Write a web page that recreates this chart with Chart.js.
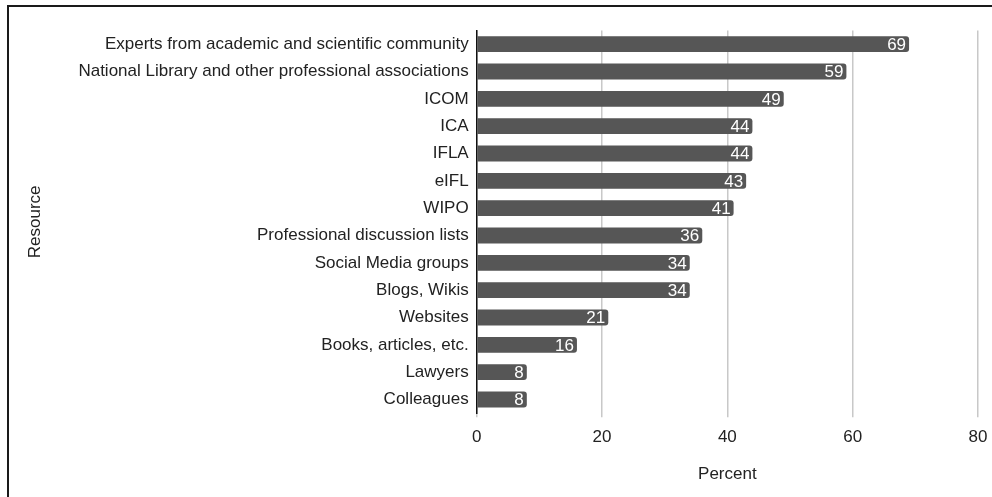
<!DOCTYPE html>
<html>
<head>
<meta charset="utf-8">
<script src="https://cdn.jsdelivr.net/npm/chart.js@4/dist/chart.umd.min.js"></script>
<style>
html,body{margin:0;padding:0;background:#fff;overflow:hidden;}
#wrap{position:absolute;left:0;top:0;width:992px;height:497px;}
#frame{position:absolute;left:7px;top:5px;width:1000px;height:600px;border-top:2px solid #1a1a1a;border-left:2px solid #1a1a1a;pointer-events:none;}
</style>
</head>
<body>
<div id="wrap"><canvas id="c" width="992" height="497"></canvas></div>
<div id="frame"></div>
<script>
const categories = [
  "Experts from academic and scientific community",
  "National Library and other professional associations",
  "ICOM",
  "ICA",
  "IFLA",
  "eIFL",
  "WIPO",
  "Professional discussion lists",
  "Social Media groups",
  "Blogs, Wikis",
  "Websites",
  "Books, articles, etc.",
  "Lawyers",
  "Colleagues"
];
const percentValues = [69, 59, 49, 44, 44, 43, 41, 36, 34, 34, 21, 16, 8, 8];
const xTicks = [0, 20, 40, 60, 80];

const FONT = "'Liberation Sans', Arial, sans-serif";

const barLabels = {
  id: 'barLabels',
  afterDatasetsDraw(chart) {
    const ctx = chart.ctx;
    const meta = chart.getDatasetMeta(0);
    ctx.save();
    ctx.font = "17px " + FONT;
    ctx.fillStyle = '#ffffff';
    ctx.textAlign = 'right';
    ctx.textBaseline = 'middle';
    meta.data.forEach((el, i) => {
      ctx.fillText(String(percentValues[i]), el.x - 3, el.y + 1);
    });
    ctx.restore();
  }
};

new Chart(document.getElementById('c'), {
  type: 'bar',
  data: {
    labels: categories,
    datasets: [{
      data: percentValues,
      backgroundColor: '#565656',
      borderRadius: 3,
      borderSkipped: 'start',
      barPercentage: 0.58,
      categoryPercentage: 1.0
    }]
  },
  options: {
    indexAxis: 'y',
    responsive: false,
    animation: false,
    devicePixelRatio: 1,
    layout: { padding: { left: 18, right: 0, top: 30.5, bottom: 8 } },
    plugins: { legend: { display: false }, tooltip: { enabled: false } },
    scales: {
      x: {
        min: 0, max: 80,
        afterBuildTicks(axis) { axis.ticks = xTicks.map(v => ({ value: v })); },
        afterFit(axis) { axis.paddingRight = 14; },
        grid: { color: '#c8c8c8', lineWidth: 1.5, drawTicks: true, tickLength: 4 },
        border: { display: false },
        ticks: { color: '#222', font: { family: FONT, size: 17 }, padding: 10 },
        title: { display: true, text: 'Percent', color: '#222', font: { family: FONT, size: 17 }, padding: { top: 7 } }
      },
      y: {
        grid: { display: false, drawTicks: false },
        border: { display: true, color: '#111', width: 1.5 },
        ticks: { color: '#222', font: { family: FONT, size: 17 }, padding: 8 },
        title: { display: true, text: 'Resource', color: '#222', font: { family: FONT, size: 17 }, padding: { top: 7, bottom: 25 } }
      }
    }
  },
  plugins: [barLabels]
});
</script>
</body>
</html>
